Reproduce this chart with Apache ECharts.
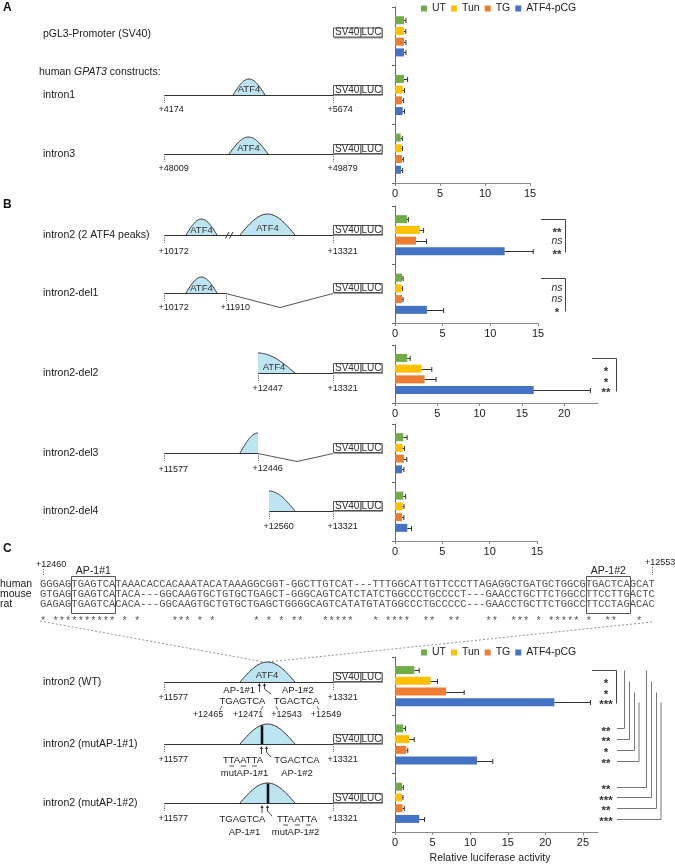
<!DOCTYPE html>
<html><head><meta charset="utf-8">
<script src="https://cdn.jsdelivr.net/npm/echarts@6/dist/echarts.min.js"></script>
<style>html,body{margin:0;padding:0;background:#fff}#c{width:675px;height:865px}</style>
</head><body><div id="c"></div>
<script>
// ---------------- DATA ----------------
const treatments = ['UT', 'Tun', 'TG', 'ATF4-pCG'];

const catA = ['pGL3-Promoter (SV40)', 'intron1', 'intron3'];
const meanA = [[1.0, 1.0, 0.63], [1.0, 0.85, 0.74], [1.0, 0.78, 0.78], [1.0, 0.85, 0.67]];
const errA  = [[0.22, 0.4, 0.18], [0.2, 0.2, 0.1], [0.22, 0.18, 0.15], [0.22, 0.2, 0.18]];
const ticksA = [0, 5, 10, 15]; const maxA = 15;

const catB1 = ['intron2 (2 ATF4 peaks)', 'intron2-del1'];
const meanB1 = [[1.25, 0.75], [2.6, 0.7], [2.2, 0.75], [11.5, 3.35]];
const errB1  = [[0.15, 0.1], [0.4, 0.1], [1.1, 0.1], [3.0, 1.75]];
const ticksB1 = [0, 5, 10, 15]; const maxB1 = 15;
const sigB1 = [['**', 'ns', '**'], ['ns', 'ns', '*']];

const catB2 = ['intron2-del2'];
const meanB2 = [[1.45], [3.15], [3.5], [16.4]];
const errB2  = [[0.35], [1.2], [1.35], [6.7]];
const ticksB2 = [0, 5, 10, 15, 20]; const maxB2 = 24;
const sigB2 = [['*', '*', '**']];

const catB3 = ['intron2-del3', 'intron2-del4'];
const meanB3 = [[0.88, 0.88], [0.8, 0.8], [0.95, 0.74], [0.74, 1.3]];
const errB3  = [[0.4, 0.25], [0.2, 0.15], [0.3, 0.2], [0.2, 0.45]];
const ticksB3 = [0, 5, 10, 15]; const maxB3 = 15;

const catC = ['intron2 (WT)', 'intron2 (mutAP-1#1)', 'intron2 (mutAP-1#2)'];
const meanC = [[2.57, 1.1, 0.93], [4.74, 1.9, 0.93], [6.8, 1.5, 1.0], [21.2, 10.9, 3.23]];
const errC  = [[0.65, 0.3, 0.17], [0.9, 0.65, 0.13], [2.4, 0.2, 0.24], [4.8, 2.1, 0.7]];
const ticksC = [0, 5, 10, 15, 20, 25]; const maxC = 27;
const sigC_WT = ['*', '*', '***'];
const sigC_mut1 = ['**', '**', '*', '**'];
const sigC_mut2 = ['**', '***', '**', '***'];

const seqSpecies = ['human', 'mouse', 'rat'];
const seqHuman = 'GGGAGTGAGTCATAAACACCACAAATACATAAAGGCGGT-GGCTTGTCAT---TTTGGCATTGTTCCCTTAGAGGCTGATGCTGGCGTGACTCAGCAT';
const seqMouse = 'GTGAGTGAGTCATACA---GGCAAGTGCTGTGCTGAGCT-GGGCAGTCATCTATCTGGCCCTGCCCCT---GAACCTGCTTCTGGCCTTCCTTGACTC';
const seqRat   = 'GAGAGTGAGTCACACA---GGCAAGTGCTGTGCTGAGCTGGGGCAGTCATATGTATGGCCCTGCCCCC---GAACCTGCTTCTGGCCTTCCTAGACAC';
const seqStart = '+12460', seqEnd = '+12553';
const ap1Site1 = 'TGAGTCA', ap1Site2 = 'TGACTCA', mutSite = 'TTAATTA';

// ---------------- STYLE / LAYOUT ----------------
const F = '"Liberation Sans", Arial, sans-serif';
const MONO = '"Liberation Mono", "Courier New", monospace';
const COLORS = ['#70AD47', '#FFC000', '#ED7D31', '#4472C4'];
const PEAK = '#bde5f1';
const BAR_W = 8, BAR_STEP = 10.72;
const GRIDS = [
  {top: 7, height: 176, width: 135, cats: catA, mean: meanA, err: errA, ticks: ticksA, max: maxA},
  {top: 206, height: 117, width: 143, cats: catB1, mean: meanB1, err: errB1, ticks: ticksB1, max: maxB1},
  {top: 345, height: 58, width: 203, cats: catB2, mean: meanB2, err: errB2, ticks: ticksB2, max: maxB2},
  {top: 424, height: 117, width: 142, cats: catB3, mean: meanB3, err: errB3, ticks: ticksB3, max: maxB3},
  {top: 657, height: 175, width: 203, cats: catC, mean: meanC, err: errC, ticks: ticksC, max: maxC}
];

const chart = echarts.init(document.getElementById('c'), null, {renderer: 'canvas'});

function errRender(params, api) {
  const v = api.value(0), c = api.value(1), e = api.value(2), i = api.value(3);
  const p0 = api.coord([v, c]), p1 = api.coord([v + e, c]);
  const y = Math.round(p0[1] + (i - 1.5) * BAR_STEP) + 0.5;
  const st = {stroke: '#333', lineWidth: 1};
  return {type: 'group', children: [
    {type: 'line', shape: {x1: p0[0], y1: y, x2: p1[0], y2: y}, style: st},
    {type: 'line', shape: {x1: p1[0], y1: y - 2.5, x2: p1[0], y2: y + 2.5}, style: st}
  ]};
}

const grid = [], xAxis = [], yAxis = [], series = [];
GRIDS.forEach((G, gi) => {
  grid.push({left: 395, top: G.top, width: G.width, height: G.height, containLabel: false});
  xAxis.push({
    type: 'value', gridIndex: gi, min: 0, max: G.max, interval: 5,
    axisLine: {show: true, lineStyle: {color: '#8a8a8a', width: 1}},
    axisTick: {show: true, length: 3, lineStyle: {color: '#8a8a8a'}, customValues: G.ticks},
    axisLabel: {fontSize: 11, color: '#222', fontFamily: F, margin: 5, customValues: G.ticks},
    splitLine: {show: false},
    name: gi === 4 ? 'Relative luciferase activity' : '',
    nameLocation: 'middle', nameGap: 21,
    nameTextStyle: {fontSize: 10.5, color: '#222', fontFamily: F, padding: [0, 13, 0, 0]}
  });
  yAxis.push({
    type: 'category', gridIndex: gi, data: G.cats, inverse: true,
    axisLine: {show: true, lineStyle: {color: '#6a6a6a', width: 1}},
    axisTick: {show: true, length: 3, lineStyle: {color: '#6a6a6a'}},
    axisLabel: {show: false}, splitLine: {show: false}
  });
  const ed = [];
  treatments.forEach((t, i) => {
    series.push({type: 'bar', name: t, xAxisIndex: gi, yAxisIndex: gi, data: G.mean[i],
      barWidth: BAR_W, barGap: '34%', itemStyle: {color: COLORS[i]}, silent: true});
    G.mean[i].forEach((m, j) => ed.push([m, j, G.err[i][j], i]));
  });
  series.push({type: 'custom', xAxisIndex: gi, yAxisIndex: gi, data: ed, renderItem: errRender,
    encode: {x: 0, y: 1}, clip: false, z: 5, silent: true});
});

const legendBase = {data: treatments, left: 421, icon: 'rect', itemWidth: 6, itemHeight: 6, itemGap: 5,
  padding: 0, selectedMode: false, textStyle: {fontSize: 10.5, color: '#222', fontFamily: F}};

chart.setOption({
  animation: false, backgroundColor: '#fff',
  legend: [Object.assign({top: 3}, legendBase), Object.assign({top: 647}, legendBase)],
  grid, xAxis, yAxis, series
});

// ---------------- GRAPHICS ----------------
const mctx = document.createElement('canvas').getContext('2d');
function tw(s, size) { mctx.font = size + 'px "Liberation Sans"'; return mctx.measureText(s).width; }

function txt(x, y, s, o) {
  o = o || {};
  const al = o.align || 'left';
  const style = {text: s, fontFamily: o.fontFamily || F, fontSize: o.fontSize || 10.5, fill: o.fill || '#222',
    fontWeight: o.fontWeight || 'normal', fontStyle: o.fontStyle || 'normal',
    align: al, textAlign: al, verticalAlign: 'middle', textVerticalAlign: 'middle'};
  return {type: 'text', x, y, silent: true, z: 10, style};
}
function ln(x1, y1, x2, y2, c, w, dash) {
  const st = {stroke: c || '#333', lineWidth: w || 1};
  if (dash) st.lineDash = dash;
  return {type: 'line', silent: true, z: 8, shape: {x1, y1, x2, y2}, style: st};
}
function pl(points, c, w, dash) {
  const st = {stroke: c || '#333', lineWidth: w || 1, fill: null};
  if (dash) st.lineDash = dash;
  return {type: 'polyline', silent: true, z: 8, shape: {points}, style: st};
}
const bell = t => Math.sin(Math.PI * t);
function peak(x0, x1, base, h, t0, t1) {
  t0 = t0 || 0; t1 = (t1 === undefined) ? 1 : t1;
  const pts = [], N = 40;
  for (let k = 0; k <= N; k++) {
    const t = t0 + (t1 - t0) * k / N;
    pts.push([x0 + t * (x1 - x0), base - h * bell(t)]);
  }
  const poly = pts.concat([[pts[N][0], base], [pts[0][0], base]]);
  return [
    {type: 'polygon', silent: true, z: 6, shape: {points: poly}, style: {fill: PEAK, stroke: null}},
    {type: 'polyline', silent: true, z: 7, shape: {points: pts}, style: {stroke: '#333', lineWidth: 1, fill: null}}
  ];
}
function svbox(bottom) {
  const y = bottom - 10;
  return [
    {type: 'rect', silent: true, z: 8, shape: {x: 334, y: y + 1, width: 49, height: 10}, style: {fill: '#9a9a9a'}},
    {type: 'rect', silent: true, z: 9, shape: {x: 333.5, y: y + 0.5, width: 27.5, height: 9}, style: {fill: '#fff', stroke: '#555', lineWidth: 1}},
    {type: 'rect', silent: true, z: 9, shape: {x: 361, y: y + 0.5, width: 21, height: 9}, style: {fill: '#fff', stroke: '#555', lineWidth: 1}},
    txt(347.2, y + 5.2, 'SV40', {fontSize: 10, align: 'center', fill: '#333'}),
    txt(371.5, y + 5.2, 'LUC', {fontSize: 10, align: 'center', fill: '#333'})
  ];
}
function posLabel(x, ly, s, dy) {
  return [ln(x + 0.5, ly, x + 0.5, ly + 8, '#666', 1, [1.2, 1.2]), txt(x - 5.5, ly + (dy || 15), s, {fontSize: 9})];
}
function mainLine(x1, x2, y) { return ln(x1, y + 0.5, x2, y + 0.5, '#333', 1.2); }
function atf4(x, y) { return txt(x, y, 'ATF4', {fontSize: 9.5, align: 'center', fill: '#333'}); }
function upArrow(x, y1, y2) { // y1 bottom, y2 tip
  return [ln(x, y1, x, y2 + 2, '#333', 0.9),
    {type: 'polygon', silent: true, z: 9, shape: {points: [[x - 1.6, y2 + 3], [x + 1.6, y2 + 3], [x, y2]]}, style: {fill: '#333'}}];
}
function bentArrow(x, ytip, xt, yt) {
  return [pl([[xt, yt], [x, ytip + 6], [x, ytip + 2]], '#333', 0.9),
    {type: 'polygon', silent: true, z: 9, shape: {points: [[x - 1.6, ytip + 3], [x + 1.6, ytip + 3], [x, ytip]]}, style: {fill: '#333'}}];
}
function underlined(cx, y, s, idx, size) {
  const W = tw(s, size), x0 = cx - W / 2;
  const out = [txt(cx, y, s, {fontSize: size, align: 'center'})];
  idx.forEach(i => {
    const a = x0 + tw(s.slice(0, i), size), b = a + tw(s[i], size);
    out.push(ln(a + 0.5, y + 5.5, b - 0.5, y + 5.5, '#222', 0.8));
  });
  return out;
}
function mutIdx(orig, mut) { const r = []; for (let i = 0; i < orig.length; i++) if (orig[i] !== mut[i]) r.push(i); return r; }

function buildGraphics() {
  const g = [];
  const add = (...els) => els.forEach(e => Array.isArray(e) ? e.forEach(x => add(x)) : g.push(e));
  const by = (gi, cat, i) => chart.convertToPixel({xAxisIndex: gi, yAxisIndex: gi}, [0, cat])[1] + (i - 1.5) * BAR_STEP;

  // panel letters
  add(txt(3, 8, 'A', {fontWeight: 'bold', fontSize: 12, fill: '#111'}),
      txt(3, 205, 'B', {fontWeight: 'bold', fontSize: 12, fill: '#111'}),
      txt(3, 549, 'C', {fontWeight: 'bold', fontSize: 12, fill: '#111'}));

  // row labels
  const LY = {A: [34, 95, 154], B1: [235, 293], B2: [373], B3: [453, 511], C: [682, 744, 803]};
  catA.forEach((s, i) => add(txt(43, LY.A[i], s)));
  catB1.forEach((s, i) => add(txt(43, LY.B1[i], s)));
  catB2.forEach((s, i) => add(txt(43, LY.B2[i], s)));
  catB3.forEach((s, i) => add(txt(43, LY.B3[i], s)));
  catC.forEach((s, i) => add(txt(43, LY.C[i], s)));
  add({type: 'text', x: 39, y: 72, silent: true, z: 10, style: {
    text: '{a|human }{b|GPAT3}{a| constructs:}', verticalAlign: 'middle', textVerticalAlign: 'middle',
    rich: {a: {fontFamily: F, fontSize: 10.5, fill: '#222'}, b: {fontFamily: F, fontSize: 10.5, fontStyle: 'italic', fill: '#222'}}}});

  // ---- Panel A constructs
  add(svbox(37.5));
  add(mainLine(165, 333, 95), peak(233, 265, 95, 16), atf4(249, 89), posLabel(164, 95, '+4174'), posLabel(333, 95, '+5674'), svbox(95));
  add(mainLine(165, 333, 154), peak(229, 268, 154, 17), atf4(248.5, 148.5), posLabel(164, 154, '+48009'), posLabel(333, 154, '+49879'), svbox(154));

  // ---- Panel B constructs
  add(mainLine(165, 333, 235), peak(186, 217, 235, 16), atf4(201.5, 230), peak(240, 295, 235, 21), atf4(267.5, 228.5),
      ln(225.5, 238.5, 229, 232, '#333', 1), ln(229.5, 238.5, 233, 232, '#333', 1),
      posLabel(164, 235, '+10172', 17), posLabel(333, 235, '+13321', 17), svbox(235));
  add(mainLine(165, 226, 293), peak(186, 217, 293, 16), atf4(201.5, 288), pl([[226, 293.5], [280, 307.5], [333, 293.5]], '#555', 1),
      posLabel(164, 293, '+10172'), posLabel(226, 293, '+11910'), svbox(293));
  add(mainLine(258, 333, 373), peak(221, 295, 373, 20, 0.5, 1), atf4(274, 367.5), posLabel(258, 373, '+12447', 16), posLabel(333, 373, '+13321', 16), svbox(373));
  add(mainLine(165, 258, 453), peak(240, 276, 453, 20, 0, 0.5), pl([[258, 453.5], [297, 461.5], [333, 453.5]], '#555', 1),
      posLabel(164, 453, '+11577', 17), posLabel(258, 453, '+12446', 16), svbox(453));
  add(mainLine(269, 333, 511), peak(243, 295, 511, 20, 0.5, 1), posLabel(269, 511, '+12560', 16), posLabel(333, 511, '+13321', 16), svbox(511));

  // ---- Panel C sequence alignment
  const CW = 6.28, SX = 40, FS = CW / 0.6;
  const seqs = [seqHuman, seqMouse, seqRat], SY = [584, 594, 604];
  seqSpecies.forEach((s, i) => add(txt(0, SY[i], s, {fontSize: 10.5})));
  seqs.forEach((s, i) => add(txt(SX, SY[i], s, {fontFamily: MONO, fontSize: FS, fill: '#555'})));
  let cons = '';
  for (let k = 0; k < seqHuman.length; k++) {
    const a = seqHuman[k], b = seqMouse[k], c = seqRat[k];
    cons += (a !== '-' && a === b && a === c) ? '*' : ' ';
  }
  add(txt(SX, 621, cons, {fontFamily: MONO, fontSize: FS, fill: '#555'}));
  const i1 = seqHuman.indexOf(ap1Site1), i2 = seqHuman.indexOf(ap1Site2);
  [[i1, 'AP-1#1'], [i2, 'AP-1#2']].forEach(([ix, lab]) => {
    const x0 = SX + ix * CW, x1 = SX + (ix + 7) * CW;
    add({type: 'rect', silent: true, z: 9, shape: {x: Math.round(x0) + 0.5, y: 576.5, width: Math.round(x1 - x0), height: 37}, style: {fill: null, stroke: '#555', lineWidth: 1}});
    add(txt((x0 + x1) / 2, 571, lab, {fontSize: 10.5, align: 'center'}));
  });
  add(txt(36, 565, seqStart, {fontSize: 9}), ln(43.5, 569, 43.5, 576, '#666', 1, [1.2, 1.2]));
  add(txt(645, 563, seqEnd, {fontSize: 9}), ln(652.5, 567, 652.5, 575, '#666', 1, [1.2, 1.2]));
  add(ln(40, 621, 264, 662, '#777', 0.8, [2, 2]), ln(652, 622, 268, 662, '#777', 0.8, [2, 2]));

  // ---- Panel C constructs
  const pk = (y) => peak(240, 295, y, 20);
  const barAt = (x, y) => ln(x, y, x, y - 20 * bell((x - 240) / 55) + 0.5, '#111', 2.6);
  // WT
  add(mainLine(165, 333, 682), pk(682), atf4(267, 675), posLabel(164, 682, '+11577', 16), posLabel(333, 682, '+13321', 16), svbox(682));
  add(upArrow(259.5, 692, 683), bentArrow(264.5, 683, 271, 694));
  add(txt(255, 690, 'AP-1#1', {fontSize: 9.5, align: 'right'}), txt(282, 690, 'AP-1#2', {fontSize: 9.5}));
  add(txt(242.5, 701.5, ap1Site1, {fontSize: 9.5, align: 'center'}), txt(296.5, 701.5, ap1Site2, {fontSize: 9.5, align: 'center'}));
  add(ln(222, 706, 220, 710, '#444', 0.8), ln(263, 706, 261, 710, '#444', 0.8), ln(276, 706, 278, 710, '#444', 0.8), ln(317, 706, 319, 710, '#444', 0.8));
  add(txt(208, 714.5, '+12465', {fontSize: 9, align: 'center'}), txt(248, 714.5, '+12471', {fontSize: 9, align: 'center'}),
      txt(286.5, 714.5, '+12543', {fontSize: 9, align: 'center'}), txt(326, 714.5, '+12549', {fontSize: 9, align: 'center'}));
  // mut1
  add(mainLine(165, 333, 744), pk(744), barAt(262, 744), posLabel(164, 744, '+11577', 16), posLabel(333, 744, '+13321', 16), svbox(744));
  add(upArrow(261.5, 754, 746), bentArrow(266.5, 746, 271, 757));
  add(underlined(243, 760.5, mutSite, mutIdx(ap1Site1, mutSite), 9.5), txt(297, 760.5, ap1Site2, {fontSize: 9.5, align: 'center'}));
  add(txt(244.5, 773.5, 'mutAP-1#1', {fontSize: 9.5, align: 'center'}), txt(297, 773.5, 'AP-1#2', {fontSize: 9.5, align: 'center'}));
  // mut2
  add(mainLine(165, 333, 803), pk(803), barAt(268, 803), posLabel(164, 803, '+11577', 16), posLabel(333, 803, '+13321', 16), svbox(803));
  add(upArrow(262, 813, 805), bentArrow(267.5, 805, 272, 816));
  add(txt(242.5, 819.5, ap1Site1, {fontSize: 9.5, align: 'center'}), underlined(297, 819.5, mutSite, mutIdx(ap1Site2, mutSite), 9.5));
  add(txt(244.5, 832, 'AP-1#1', {fontSize: 9.5, align: 'center'}), txt(295.5, 832, 'mutAP-1#2', {fontSize: 9.5, align: 'center'}));

  // ---- significance
  const sigTxt = (x, y, s) => s === 'ns'
    ? txt(x, y, s, {fontSize: 10.5, fontStyle: 'italic', align: 'center', fill: '#333'})
    : txt(x, y + 3, s, {fontSize: 11.5, fontWeight: 'bold', align: 'center', fill: '#333'});
  const bracket = (gi, cat, xl, xr, labs, lx) => {
    const yt = Math.round(by(gi, cat, 0)) + 0.5, yb = Math.round(by(gi, cat, 3)) + 0.5;
    add(pl([[xl, yt], [xr + 0.5, yt], [xr + 0.5, yb + 1]], '#444', 1));
    labs.forEach((s, k) => add(sigTxt(lx, by(gi, cat, k + 1), s)));
  };
  bracket(1, 0, 541, 565, sigB1[0], 557);
  bracket(1, 1, 541, 565, sigB1[1], 557);
  bracket(2, 0, 592, 616, sigB2[0], 606);
  bracket(4, 0, 592, 616, sigC_WT, 606);
  const vx1 = [624, 629, 634, 638.5], vx2 = [646, 651, 656, 660.5];
  [[1, sigC_mut1, vx1], [2, sigC_mut2, vx2]].forEach(([cat, labs, vx]) => {
    labs.forEach((s, k) => {
      const y = Math.round(by(4, cat, k)) + 0.5, y0 = Math.round(by(4, 0, k)) + 0.5;
      add(sigTxt(606, by(4, cat, k), s));
      add(pl([[617, y], [vx[k] + 0.5, y], [vx[k] + 0.5, y0]], '#777', 1));
    });
  });
  return g;
}

chart.setOption({graphic: {elements: buildGraphics()}});
</script>
</body></html>
